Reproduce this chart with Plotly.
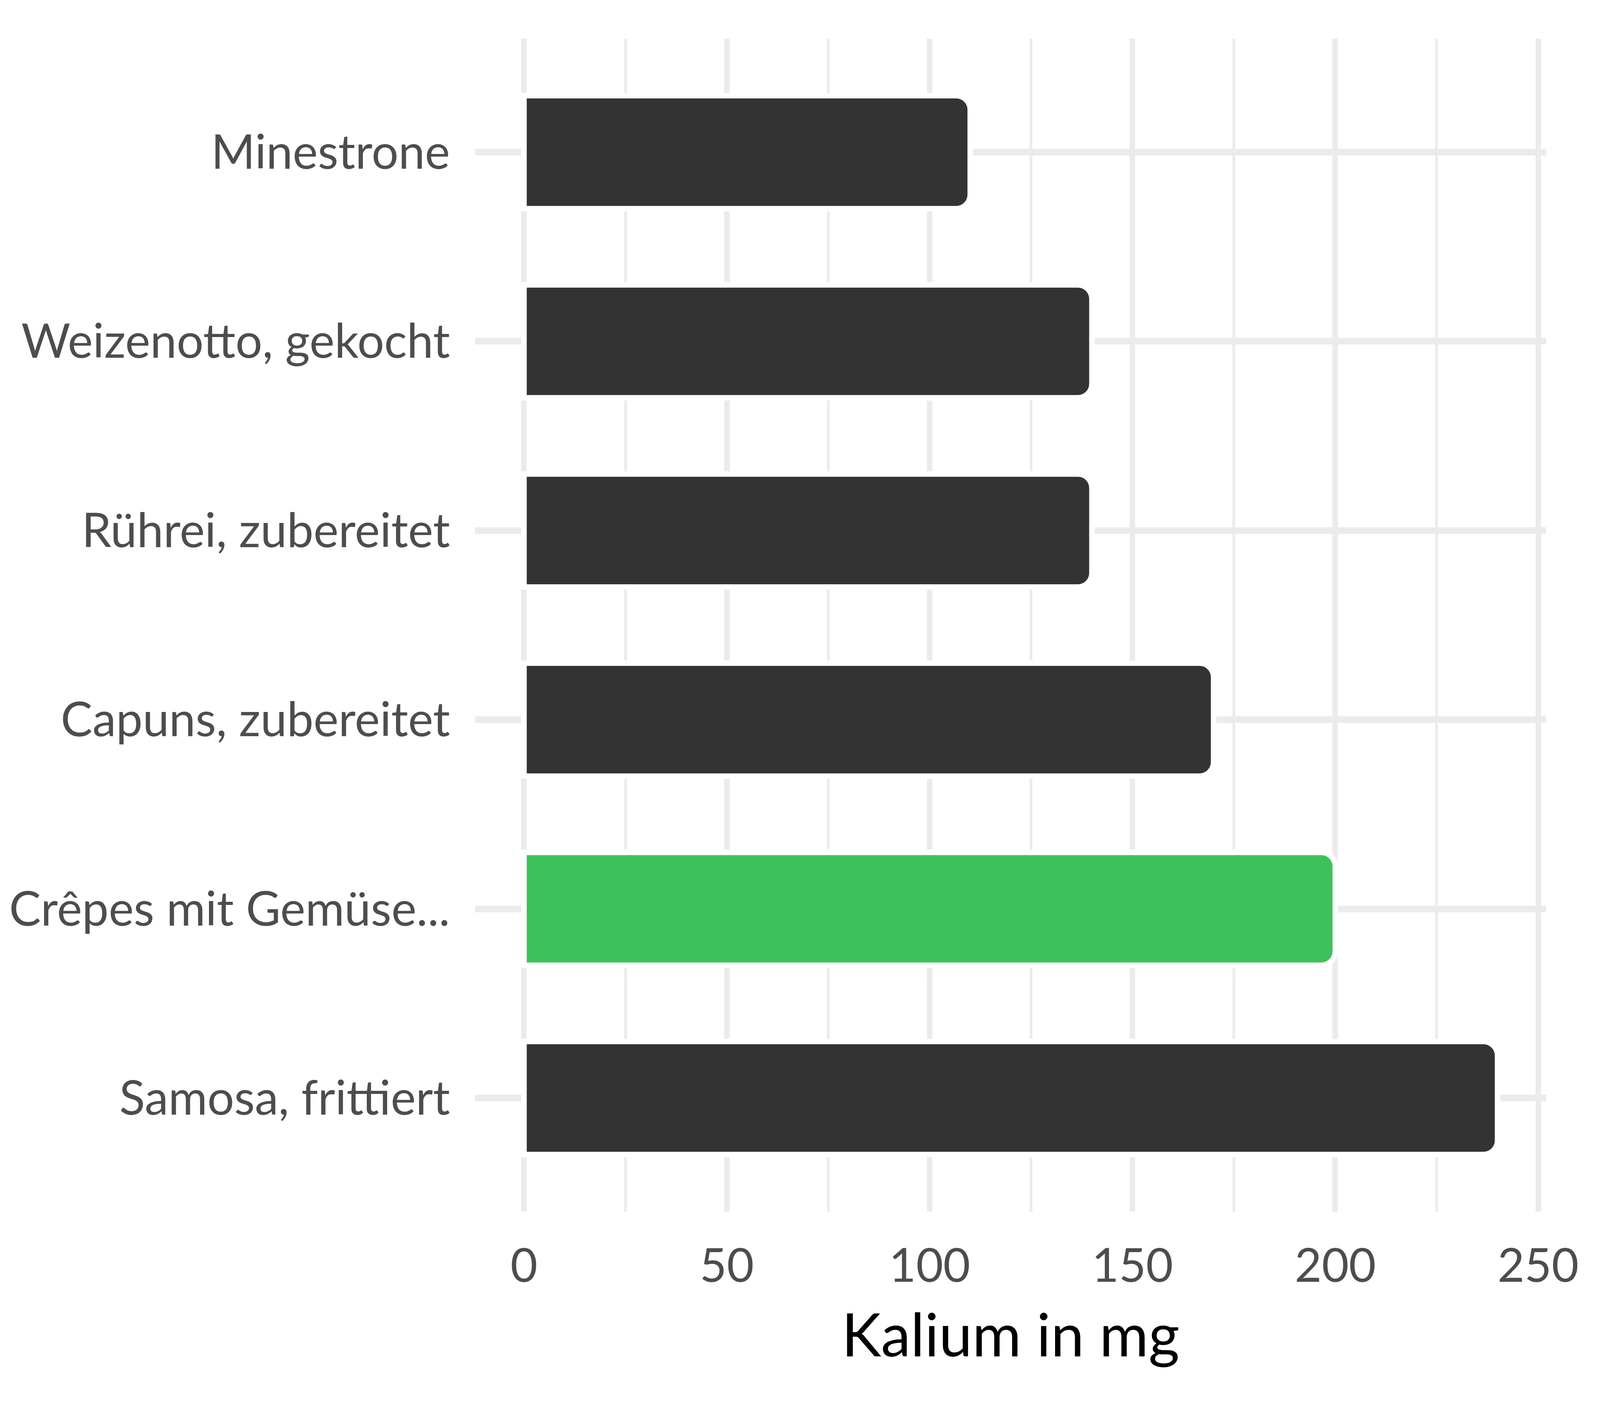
import plotly.graph_objects as go

categories = ["Minestrone", "Weizenotto, gekocht", "Rührei, zubereitet", "Capuns, zubereitet", "Crêpes mit Gemüse...", "Samosa, frittiert"]
values = [110, 140, 140, 170, 200, 240]
highlight = "Crêpes mit Gemüse..."
x_ticks = [0, 50, 100, 150, 200, 250]
x_title = "Kalium in mg"

# The browser viewport is about 4075 x 3620 CSS px, so the 4800x3600 design
# is scaled horizontally by KX, vertically by KY, and the text by KF.
W, H = 4050, 3596
KX, KY = 4030 / 4800, H / 3600
KF = 0.92

colors = ["#3DC15A" if c == highlight else "#333333" for c in categories]

fig = go.Figure(go.Bar(
    y=categories, x=values, orientation="h",
    marker=dict(color=colors, line=dict(color="white", width=14)),
    width=0.597,
))

font = "Lato"
fig.update_layout(
    width=W, height=H,
    margin=dict(l=1439 * KX, r=100, t=91 * KY, b=503 * KY, pad=0),
    plot_bgcolor="white", paper_bgcolor="white",
    barcornerradius=36,
    showlegend=False,
    font=dict(family=font, color="#4D4D4D"),
)
fig.update_xaxes(
    range=[-12.08, 251.97], tickvals=x_ticks, ticktext=[str(v) for v in x_ticks],
    showgrid=True, gridcolor="#EBEBEB", gridwidth=17 * KX,
    minor=dict(dtick=25, tick0=0, showgrid=True, gridcolor="#EBEBEB", gridwidth=8 * KX),
    zeroline=False, showline=False, ticks="", automargin=False,
    ticklabeloverflow="allow",
    tickfont=dict(size=130 * KF, color="#4D4D4D", family=font),
    ticklabelstandoff=59,
    title=dict(text=x_title, font=dict(size=166 * KF, color="black", family=font), standoff=60),
)
fig.update_yaxes(
    categoryorder="array", categoryarray=categories, autorange=False, range=[5.6, -0.6],
    showgrid=True, gridcolor="#EBEBEB", gridwidth=17 * KY,
    zeroline=False, showline=False, ticks="", automargin=False,
    tickfont=dict(size=132 * KF, color="#4D4D4D", family=font),
    ticklabelstandoff=round(75 * KX),
)
fig.write_html("out.html")
